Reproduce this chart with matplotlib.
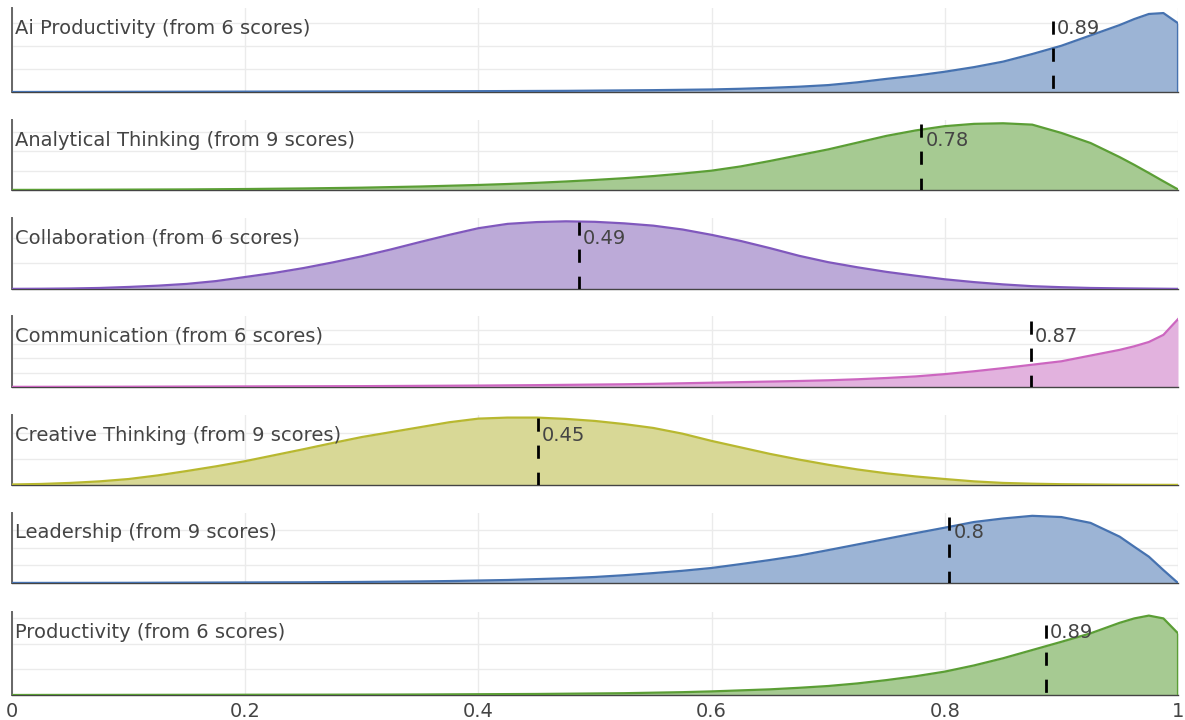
import numpy as np
import matplotlib
matplotlib.use("Agg")
import matplotlib.pyplot as plt

# skill names, number of scores and mean score per panel
skills = ["Ai Productivity", "Analytical Thinking", "Collaboration", "Communication",
          "Creative Thinking", "Leadership", "Productivity"]
n_scores = [6, 9, 6, 6, 9, 9, 6]
means = [0.893, 0.78, 0.486, 0.874, 0.451, 0.804, 0.887]

# density curves (same x grid for every panel)
x_grid = [0, .025, .05, .075, .1, .125, .15, .175, .2, .225, .25, .275, .3, .325, .35, .375,
          .4, .425, .45, .475, .5, .525, .55, .575, .6, .625, .65, .675, .7, .725, .75, .775,
          .8, .825, .85, .875, .9, .925, .95, .9625, .975, .9875, 1.0]
ai_productivity = [0, .002, .004, .006, .008, .01, .012, .014, .016, .018, .02, .022, .025, .027,
                   .03, .033, .036, .04, .045, .05, .06, .07, .08, .095, .11, .14, .18, .23, .3,
                   .42, .57, .71, .88, 1.08, 1.32, 1.65, 2.01, 2.46, 2.91, 3.17, 3.39, 3.43, 2.99]
analytical = [.005, .007, .01, .015, .02, .025, .03, .04, .05, .065, .08, .1, .12, .15, .18, .22,
              .26, .31, .37, .44, .52, .61, .72, .85, 1.0, 1.22, 1.5, 1.8, 2.1, 2.45, 2.8, 3.08,
              3.3, 3.42, 3.45, 3.38, 2.95, 2.43, 1.7, 1.3, .88, .45, .03]
collaboration = [.005, .01, .02, .04, .08, .13, .2, .31, .47, .63, .82, 1.04, 1.28, 1.55, 1.84,
                 2.12, 2.38, 2.55, 2.62, 2.65, 2.63, 2.57, 2.48, 2.33, 2.12, 1.88, 1.6, 1.3, 1.05,
                 .85, .67, .52, .38, .27, .18, .11, .07, .04, .025, .02, .015, .01, .005]
communication = [.01, .012, .015, .017, .02, .025, .03, .035, .04, .045, .05, .055, .06, .07, .08,
                 .09, .1, .115, .13, .15, .17, .19, .22, .26, .3, .34, .38, .42, .47, .54, .63,
                 .74, .9, 1.1, 1.32, 1.56, 1.8, 2.2, 2.6, 2.85, 3.15, 3.65, 4.75]
creative = [.02, .04, .08, .14, .23, .37, .54, .72, .92, 1.15, 1.38, 1.62, 1.85, 2.04, 2.23, 2.42,
            2.56, 2.6, 2.6, 2.55, 2.47, 2.35, 2.2, 1.98, 1.7, 1.45, 1.2, .98, .78, .6, .45, .33,
            .23, .14, .08, .05, .03, .02, .01, .008, .006, .005, .004]
leadership = [.004, .005, .006, .008, .01, .015, .02, .025, .03, .035, .04, .05, .06, .075, .09,
              .11, .14, .17, .22, .27, .34, .44, .56, .69, .85, 1.07, 1.3, 1.55, 1.86, 2.18, 2.5,
              2.82, 3.13, 3.45, 3.65, 3.8, 3.73, 3.4, 2.62, 2.05, 1.49, .73, 0.0]
productivity = [0, .002, .003, .004, .005, .006, .007, .008, .01, .011, .012, .013, .015, .017,
                .02, .025, .03, .035, .04, .05, .06, .07, .09, .11, .14, .18, .22, .28, .35, .45,
                .58, .73, .91, 1.15, 1.43, 1.75, 2.07, 2.4, 2.81, 2.98, 3.09, 2.98, 2.4]
curves = [ai_productivity, analytical, collaboration, communication, creative, leadership, productivity]

# height the mean marker reaches, and y-axis top of each panel
marker_top = [3.09, 3.42, 2.63, 4.62, 2.58, 3.73, 2.72]
y_top = [3.65, 3.62, 2.78, 4.97, 2.7, 3.96, 3.23]

colors = ["#4672b0", "#5b9e35", "#8058bd", "#cc66c0", "#b8b830", "#4672b0", "#5b9e35"]
fills = ["#9cb4d5", "#a6ca92", "#bcaad8", "#e2b2de", "#d8d896", "#9cb4d5", "#a6ca92"]
drop_edge = [True, False, False, False, False, False, True]

# panel positions in pixels (top, bottom)
tops = [8, 120, 218, 316, 415, 513, 612]
bottoms = [92, 190, 289, 387, 485, 583, 695]

W, H = 1185, 720
plt.rcParams["font.family"] = ["DejaVu Sans"]
plt.rcParams["lines.scale_dashes"] = False
fig = plt.figure(figsize=(W / 100, H / 100), dpi=100)

for i in range(len(skills)):
    t, b = tops[i], bottoms[i]
    ax = fig.add_axes([12 / W, 1 - b / H, 1166 / W, (b - t) / H])
    xs = np.array(x_grid)
    ys = np.array(curves[i])
    ax.fill_between(xs, 0, ys, color=fills[i], lw=0, zorder=2)
    if drop_edge[i]:
        xs = np.append(xs, 1.0)
        ys = np.append(ys, 0.0)
    ax.plot(xs, ys, color=colors[i], lw=1.6, zorder=3, solid_joinstyle="round")

    m = means[i]
    ax.plot([m, m], [marker_top[i], 0], color="black", lw=2, ls=(0, (9.5, 10)), zorder=4)

    ax.set_xlim(0, 1)
    ax.set_ylim(0, y_top[i])
    ax.set_xticks([0, 0.2, 0.4, 0.6, 0.8, 1])
    ax.set_yticks(np.arange(1, int(y_top[i]) + 1))
    ax.grid(True, color="#ebebeb", lw=1, zorder=0)
    ax.set_axisbelow(True)
    ax.tick_params(length=0, labelleft=False)
    if i < len(skills) - 1:
        ax.tick_params(labelbottom=False)
    else:
        ax.set_xticklabels(["0", "0.2", "0.4", "0.6", "0.8", "1"])
        ax.tick_params(axis="x", labelsize=14, labelcolor="#444444", pad=5)
    for s in ["top", "right"]:
        ax.spines[s].set_visible(False)
    ax.spines["left"].set_color("#666666")
    ax.spines["left"].set_linewidth(1.4)
    ax.spines["bottom"].set_color("#444444")
    ax.spines["bottom"].set_linewidth(1)

    ax.annotate(f"{skills[i]} (from {n_scores[i]} scores)", xy=(0, 1), xycoords="axes fraction",
                xytext=(3, -20), textcoords="offset pixels", va="center", ha="left",
                fontsize=14, color="#444444", zorder=5)
    ax.annotate(f"{round(m, 2):g}", xy=(m, 1), xycoords=("data", "axes fraction"),
                xytext=(4, -20), textcoords="offset pixels", va="center", ha="left",
                fontsize=14, color="#444444", zorder=5)

fig.savefig("out.png", dpi=100)
